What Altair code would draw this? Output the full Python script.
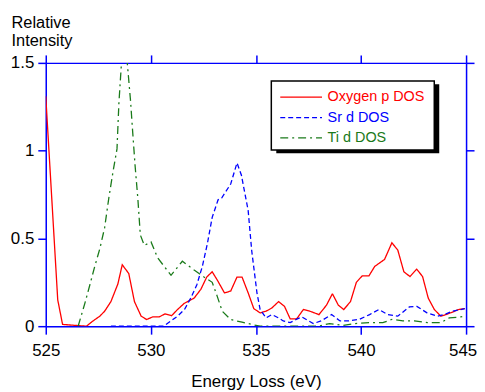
import altair as alt
import pandas as pd

# ---- data ----
oxy_e = [525.0, 525.57, 525.8, 526.94, 527.25, 527.57, 527.8, 528.1, 528.43, 528.64, 528.95,
         529.22, 529.54, 529.8, 530.09, 530.4, 530.67, 530.99, 531.27, 531.59, 532.06, 532.38,
         532.66, 532.92, 533.2, 533.5, 533.8, 534.1, 534.34, 534.63, 534.9, 535.2, 535.48,
         535.76, 536.08, 536.36, 536.63, 536.94, 537.26, 537.58, 538.0, 538.36, 538.64, 538.92,
         539.18, 539.5, 539.78, 540.06, 540.38, 540.65, 540.88, 541.12, 541.47, 541.75, 542.04,
         542.33, 542.65, 542.93, 543.2, 543.49, 543.8, 544.04, 544.35, 544.64, 544.94]
oxy_i = [1.31, 0.15, 0.01, 0.0, 0.03, 0.057, 0.085, 0.14, 0.24, 0.35, 0.30,
         0.14, 0.057, 0.038, 0.053, 0.053, 0.07, 0.06, 0.095, 0.13, 0.16, 0.21,
         0.28, 0.31, 0.255, 0.19, 0.20, 0.28, 0.28, 0.19, 0.10, 0.076, 0.085,
         0.104, 0.14, 0.113, 0.042, 0.042, 0.095, 0.085, 0.066, 0.12, 0.185, 0.12,
         0.095, 0.14, 0.25, 0.287, 0.287, 0.34, 0.36, 0.38, 0.475, 0.434, 0.31,
         0.283, 0.325, 0.283, 0.16, 0.095, 0.057, 0.066, 0.08, 0.095, 0.10]

sr_e = [528.1, 529.2, 530.6, 530.96, 531.27, 531.6, 531.9, 532.19, 532.45, 532.69, 532.92,
        533.2, 533.37, 533.8, 534.1, 534.31, 534.63, 534.8, 535.05, 535.2, 535.48, 535.76,
        536.08, 536.3, 536.63, 536.94, 537.18, 537.73, 538.1, 538.6, 539.0, 539.39, 539.94,
        540.41, 540.85, 541.28, 541.75, 542.3, 542.66, 543.14, 543.64, 543.96, 544.35, 544.94]
sr_i = [0.0, 0.0, 0.0, 0.03, 0.057, 0.095, 0.16, 0.236, 0.34, 0.47, 0.62,
        0.72, 0.73, 0.81, 0.93, 0.86, 0.66, 0.43, 0.19, 0.095, 0.047, 0.066,
        0.047, 0.03, 0.02, 0.04, 0.053, 0.015, 0.03, 0.066, 0.03, 0.03, 0.04,
        0.066, 0.095, 0.066, 0.057, 0.11, 0.113, 0.076, 0.057, 0.066, 0.085, 0.10]

ti_e = [526.54, 526.86, 527.1, 527.33, 527.57, 527.8, 528.0, 528.2, 528.39, 528.48, 528.72,
        529.03, 529.14, 529.25, 529.38, 529.5, 529.69, 530.01, 530.32, 530.64, 530.96, 531.5,
        532.06, 532.53, 532.92, 533.16, 533.4, 533.8, 534.34, 534.8, 535.2, 538.0, 538.5,
        539.15, 539.7, 540.41, 541.04, 541.5, 541.99, 542.54, 543.17, 543.8, 544.2, 544.74, 544.9]
ti_i = [0.0, 0.13, 0.236, 0.34, 0.44, 0.56, 0.73, 0.88, 1.01, 1.27, 1.72,
        1.29, 1.10, 0.915, 0.73, 0.52, 0.46, 0.48, 0.39, 0.34, 0.29, 0.37,
        0.32, 0.28, 0.25, 0.17, 0.085, 0.038, 0.023, 0.01, 0.0, 0.0, 0.015,
        0.004, 0.015, 0.02, 0.02, 0.04, 0.03, 0.03, 0.02, 0.02, 0.047, 0.053, 0.057]

series = ["Oxygen p DOS", "Sr d DOS", "Ti d DOS"]
colors = ["#ff0000", "#0000ff", "#1a7a1a"]
dashes = [[1, 0], [5, 3], [8, 4, 2, 4]]
x_ticks = [525, 530, 535, 540, 545]
y_ticks = [0, 0.5, 1, 1.5]

frames = []
for name, e, i in zip(series, [oxy_e, sr_e, ti_e], [oxy_i, sr_i, ti_i]):
    frames.append(pd.DataFrame({"energy": e, "intensity": i, "series": name}))
df = pd.concat(frames, ignore_index=True)
leg = pd.DataFrame({"series": series})
one = pd.DataFrame({"k": [0]})

FONT = "Liberation Sans"
BLUE = "#0000ff"

xs = alt.Scale(domain=[525, 545], nice=False, zero=False)
ys = alt.Scale(domain=[0, 1.5], nice=False)
cs = alt.Scale(domain=series, range=colors)
ds = alt.Scale(domain=series, range=dashes)

axis_common = dict(domainColor=BLUE, domainWidth=1.5, tickColor=BLUE, tickWidth=1.5,
                   tickSize=8, grid=False, labelFont=FONT, labelFontSize=17,
                   labelColor="black", titleFont=FONT, titleColor="black",
                   titleFontWeight="normal")

lines = alt.Chart(df).mark_line(clip=True, strokeWidth=1.3).encode(
    x=alt.X("energy:Q", scale=xs,
            axis=alt.Axis(orient="bottom", values=x_ticks, title="Energy Loss (eV)",
                          labelFlush=False, labelPadding=9, titleFontSize=17,
                          labelOffset={"condition": {"test": "datum.value >= 545", "value": -3.5},
                                       "value": 0},
                          titleBaseline="alphabetic", titleY=61, **axis_common)),
    y=alt.Y("intensity:Q", scale=ys,
            axis=alt.Axis(orient="left", values=y_ticks, format="~g",
                          title=["Relative", "Intensity"],
                          labelPadding=4, labelFlush=False, titleAngle=0, titleAlign="left",
                          titleBaseline="alphabetic", titleX=-35, titleY=-36,
                          titleFontSize=16.5, titleLineHeight=18.6, **axis_common)),
    color=alt.Color("series:N", scale=cs, legend=None),
    strokeDash=alt.StrokeDash("series:N", scale=ds, legend=None),
)

frame = alt.Chart(df).mark_point(opacity=0).encode(
    x=alt.X("energy:Q", scale=xs,
            axis=alt.Axis(orient="top", values=x_ticks, labels=False, title=None, **axis_common)),
    y=alt.Y("intensity:Q", scale=ys,
            axis=alt.Axis(orient="right", values=y_ticks, labels=False, title=None, **axis_common)),
)

shadow = alt.Chart(one).mark_rect(color="black").encode(
    x=alt.value(232), x2=alt.value(396), y=alt.value(21.5), y2=alt.value(91)
)
box = alt.Chart(one).mark_rect(fill="white", stroke="black", strokeWidth=1.5).encode(
    x=alt.value(227), x2=alt.value(391), y=alt.value(18.3), y2=alt.value(87.6)
)
leg_y = alt.Y("series:N", axis=None,
              scale=alt.Scale(type="point", domain=series, range=[34.5, 75.5], padding=0))
leg_lines = alt.Chart(leg).mark_rule(strokeWidth=1.3).encode(
    x=alt.value(236), x2=alt.value(278), y=leg_y,
    color=alt.Color("series:N", scale=cs, legend=None),
    strokeDash=alt.StrokeDash("series:N", scale=ds, legend=None),
)
leg_text = alt.Chart(leg).mark_text(align="left", baseline="middle", font=FONT, fontSize=14.5).encode(
    x=alt.value(283.6), y=leg_y, text="series:N",
    color=alt.Color("series:N", scale=cs, legend=None),
)

chart = alt.layer(lines, frame, shadow, box, leg_lines, leg_text).resolve_scale(
    y="independent"
).resolve_axis(
    x="independent", y="independent"
).properties(
    width=423, height=265,
    padding={"left": 38, "top": 54, "right": 11, "bottom": 65},
    autosize=alt.AutoSizeParams(type="none"),
).configure_view(stroke=None).configure(background="white")

chart.save("out.html", embed_options={"renderer": "svg", "actions": False})
